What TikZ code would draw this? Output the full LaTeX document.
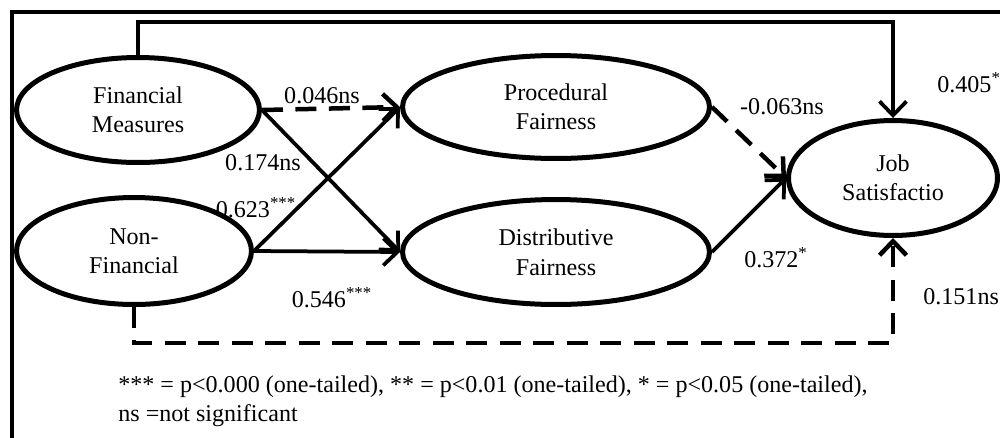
\documentclass[tikz,border=0pt]{standalone}
\usepackage{fontspec}
\setmainfont{Liberation Serif}
\usetikzlibrary{arrows.meta,shapes.geometric}
\definecolor{SemInk}{HTML}{000000}
\tikzset{
  construct/.style={
    ellipse,
    draw=SemInk,
    line width=0.1cm,
    align=center,
    inner sep=0pt,
    font=\fontsize{13.7}{16.8}\selectfont
  },
  patharrow/.style={-{Straight Barb[length=2.8mm,width=5.4mm]},line width=0.075cm,draw=SemInk},
  nsarrow/.style={patharrow,dash pattern=on 0.42cm off 0.25cm,line width=0.09cm},
  coeflabel/.style={inner sep=0pt,font=\fontsize{13.7}{16.8}\selectfont}
}
\begin{document}
\begin{tikzpicture}[x=0.02cm,y=-0.02cm]
    \useasboundingbox (0,0) rectangle (1000,437);
    % frame
    \draw[line width=0.075cm] (12,470) -- (12,12) -- (1030,12);
    % constructs
    \node[construct,minimum width=4.86cm,minimum height=2.1cm] (fin) at (138,110) {Financial\\Measures};
    \node[construct,minimum width=4.7cm,minimum height=2.14cm] (nonfin) at (134,251) {Non-\\Financial};
    \node[construct,minimum width=6.14cm,minimum height=2.06cm] (proc) at (556,107) {Procedural\\Fairness};
    \node[construct,minimum width=6.14cm,minimum height=2.1cm] (dist) at (556,252) {Distributive\\Fairness};
    \node[construct,minimum width=4.18cm,minimum height=2.3cm] (job) at (893,178) {Job\\Satisfactio};
    \coordinate (toprail) at (500,22);
    \coordinate (botrail) at (500,343);
    % paths
    \draw[nsarrow] (fin.east) -- (proc.west);
    \draw[patharrow] (fin.east) -- (dist.west);
    \draw[patharrow] (nonfin.east) -- (proc.west);
    \draw[patharrow] (nonfin.east) -- (dist.west);
    \draw[nsarrow] (proc.east) -- (job.west);
    \draw[patharrow] (dist.east) -- (job.west);
    \draw[patharrow] (fin.north) |- (toprail) -| (job.north);
    \draw[nsarrow] (nonfin.south) |- (botrail) -| (job.south);
    % coefficients
    \node[coeflabel] (c1) at (322,96) {0.046ns};
    \node[coeflabel] (c2) at (263,163) {0.174ns};
    \node[coeflabel] (c3) at (256,208) {0.623\textsuperscript{***}};
    \node[coeflabel] (c4) at (332,298) {0.546\textsuperscript{***}};
    \node[coeflabel] (c5) at (782,107) {-0.063ns};
    \node[coeflabel,anchor=west] (c6) at (937,83) {0.405\textsuperscript{*}};
    \node[coeflabel] (c7) at (776,258) {0.372\textsuperscript{*}};
    \node[coeflabel,anchor=west] (c8) at (923,297) {0.151ns};
    % legend
    \node[coeflabel,anchor=north west,align=left] (note) at (118,375) {*** = p<0.000 (one-tailed), ** = p<0.01 (one-tailed), * = p<0.05 (one-tailed),\\ns =not significant};
\end{tikzpicture}
\end{document}
